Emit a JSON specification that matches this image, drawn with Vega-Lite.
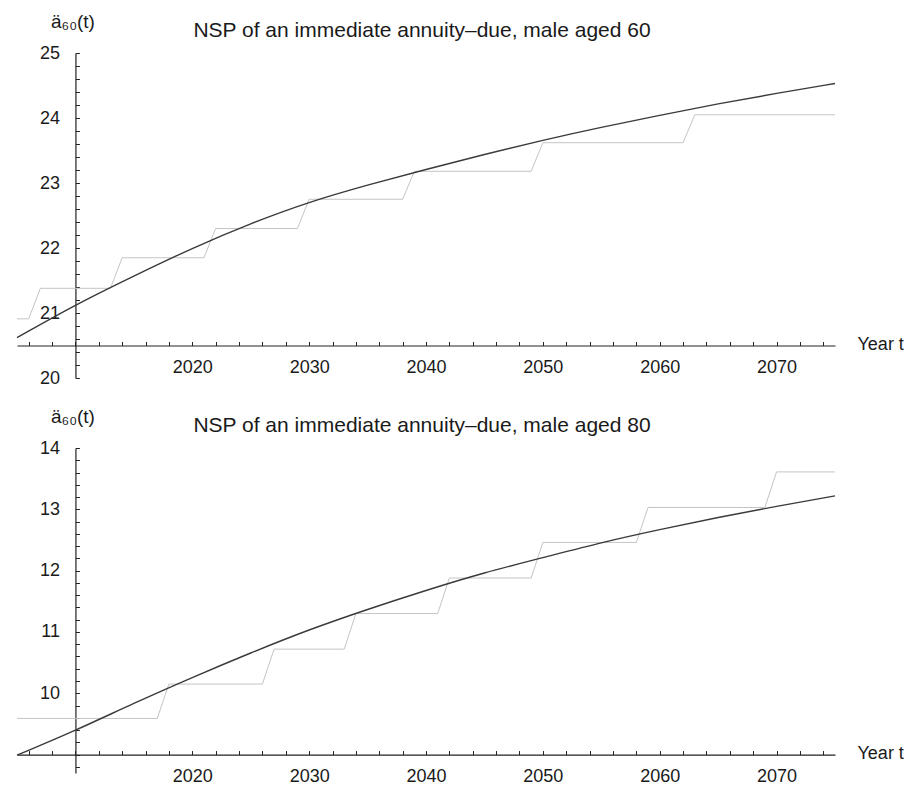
{
  "$schema": "https://vega.github.io/schema/vega-lite/v6.json",
  "background": "white",
  "padding": {"left": 14, "top": 12, "right": 5, "bottom": 2},
  "bounds": "flush",
  "spacing": 70,
  "config": {
    "view": {"stroke": null},
    "font": "Liberation Sans",
    "axis": {
      "grid": false,
      "domainColor": "#222",
      "domainWidth": 1.2,
      "tickColor": "#222",
      "tickWidth": 1,
      "tickSize": -4,
      "labelColor": "#1a1a1a",
      "labelFont": "Liberation Sans",
      "labelFontSize": 18,
      "labelFlush": false,
      "labelOverlap": false,
      "titleColor": "#1a1a1a",
      "titleFont": "Liberation Sans",
      "titleFontWeight": "normal"
    },
    "title": {"font": "Liberation Sans", "fontSize": 21, "fontWeight": "normal", "color": "#1a1a1a", "anchor": "middle", "frame": "group", "offset": 12, "dy": 41, "dx": -4}
  },
  "datasets": {
    "smooth60": [
      {"t": 2005, "v": 20.62}, {"t": 2010, "v": 21.13}, {"t": 2015, "v": 21.57}, {"t": 2020, "v": 22.0},
      {"t": 2025, "v": 22.38}, {"t": 2030, "v": 22.71}, {"t": 2035, "v": 22.97}, {"t": 2040, "v": 23.21},
      {"t": 2045, "v": 23.44}, {"t": 2050, "v": 23.66}, {"t": 2055, "v": 23.86}, {"t": 2060, "v": 24.04},
      {"t": 2065, "v": 24.22}, {"t": 2070, "v": 24.38}, {"t": 2075, "v": 24.53}
    ],
    "step60": [
      {"t": 2005, "v": 20.91}, {"t": 2006, "v": 20.91}, {"t": 2007, "v": 21.38}, {"t": 2013, "v": 21.38},
      {"t": 2014, "v": 21.85}, {"t": 2021, "v": 21.85}, {"t": 2022, "v": 22.3}, {"t": 2029, "v": 22.3},
      {"t": 2030, "v": 22.75}, {"t": 2038, "v": 22.75}, {"t": 2039, "v": 23.18}, {"t": 2049, "v": 23.18},
      {"t": 2050, "v": 23.62}, {"t": 2062, "v": 23.62}, {"t": 2063, "v": 24.05}, {"t": 2075, "v": 24.05}
    ],
    "smooth80": [
      {"t": 2005, "v": 8.99}, {"t": 2010, "v": 9.39}, {"t": 2015, "v": 9.84}, {"t": 2020, "v": 10.26},
      {"t": 2025, "v": 10.66}, {"t": 2030, "v": 11.04}, {"t": 2035, "v": 11.37}, {"t": 2040, "v": 11.68},
      {"t": 2045, "v": 11.97}, {"t": 2050, "v": 12.21}, {"t": 2055, "v": 12.46}, {"t": 2060, "v": 12.67},
      {"t": 2065, "v": 12.87}, {"t": 2070, "v": 13.05}, {"t": 2075, "v": 13.22}
    ],
    "step80": [
      {"t": 2005, "v": 9.59}, {"t": 2017, "v": 9.59}, {"t": 2018, "v": 10.15}, {"t": 2026, "v": 10.15},
      {"t": 2027, "v": 10.72}, {"t": 2033, "v": 10.72}, {"t": 2034, "v": 11.3}, {"t": 2041, "v": 11.3},
      {"t": 2042, "v": 11.88}, {"t": 2049, "v": 11.88}, {"t": 2050, "v": 12.46}, {"t": 2058, "v": 12.46},
      {"t": 2059, "v": 13.03}, {"t": 2069, "v": 13.03}, {"t": 2070, "v": 13.61}, {"t": 2075, "v": 13.61}
    ]
  },
  "vconcat": [
    {
      "width": 818,
      "height": 325,
      "title": {"text": "NSP of an immediate annuity–due, male aged 60"},
      "encoding": {
        "x": {
          "field": "t", "type": "quantitative",
          "scale": {"domain": [2005, 2075], "nice": false, "zero": false},
          "axis": {
            "offset": -32.5,
            "values": [2006, 2008, 2010, 2012, 2014, 2016, 2018, 2020, 2022, 2024, 2026, 2028, 2030, 2032, 2034, 2036, 2038, 2040, 2042, 2044, 2046, 2048, 2050, 2052, 2054, 2056, 2058, 2060, 2062, 2064, 2066, 2068, 2070, 2072, 2074],
            "format": "d",
            "labelExpr": "datum.value % 10 === 0 && datum.value !== 2010 ? datum.label : ''",
            "labelPadding": 17,
            "title": "Year t",
            "titleFontSize": 18,
            "titleX": 840,
            "titleY": -1,
            "titleAlign": "left",
            "titleBaseline": "middle"
          }
        },
        "y": {
          "field": "v", "type": "quantitative",
          "scale": {"domain": [20, 25], "nice": false, "zero": false},
          "axis": {
            "offset": -58.43,
            "values": [20, 20.2, 20.4, 20.6, 20.8, 21, 21.2, 21.4, 21.6, 21.8, 22, 22.2, 22.4, 22.6, 22.8, 23, 23.2, 23.4, 23.6, 23.8, 24, 24.2, 24.4, 24.6, 24.8, 25],
            "labelExpr": "abs(datum.value - round(datum.value)) < 0.01 ? format(datum.value, 'd') : ''",
            "labelPadding": 20,
            "title": "ä₆₀(t)",
            "titleAngle": 0,
            "titleFontSize": 19,
            "titleX": -3,
            "titleY": -32,
            "titleAlign": "center",
            "titleBaseline": "middle"
          }
        }
      },
      "layer": [
        {"data": {"name": "step60"}, "mark": {"type": "line", "color": "#c4c4c4", "strokeWidth": 1}},
        {"data": {"name": "smooth60"}, "mark": {"type": "line", "color": "#3a3a3a", "strokeWidth": 1.4, "interpolate": "basis"}}
      ]
    },
    {
      "width": 818,
      "height": 325,
      "title": {"text": "NSP of an immediate annuity–due, male aged 80"},
      "encoding": {
        "x": {
          "field": "t", "type": "quantitative",
          "scale": {"domain": [2005, 2075], "nice": false, "zero": false},
          "axis": {
            "offset": -18.4,
            "values": [2006, 2008, 2010, 2012, 2014, 2016, 2018, 2020, 2022, 2024, 2026, 2028, 2030, 2032, 2034, 2036, 2038, 2040, 2042, 2044, 2046, 2048, 2050, 2052, 2054, 2056, 2058, 2060, 2062, 2064, 2066, 2068, 2070, 2072, 2074],
            "format": "d",
            "labelExpr": "datum.value % 10 === 0 && datum.value !== 2010 ? datum.label : ''",
            "labelPadding": 17,
            "title": "Year t",
            "titleFontSize": 18,
            "titleX": 840,
            "titleY": -1,
            "titleAlign": "left",
            "titleBaseline": "middle"
          }
        },
        "y": {
          "field": "v", "type": "quantitative",
          "scale": {"domain": [8.7, 14], "nice": false, "zero": false},
          "axis": {
            "offset": -58.43,
            "values": [8.8, 9, 9.2, 9.4, 9.6, 9.8, 10, 10.2, 10.4, 10.6, 10.8, 11, 11.2, 11.4, 11.6, 11.8, 12, 12.2, 12.4, 12.6, 12.8, 13, 13.2, 13.4, 13.6, 13.8, 14],
            "labelExpr": "abs(datum.value - round(datum.value)) < 0.01 && datum.value > 9.5 ? format(datum.value, 'd') : ''",
            "labelPadding": 20,
            "title": "ä₆₀(t)",
            "titleAngle": 0,
            "titleFontSize": 19,
            "titleX": -3,
            "titleY": -32,
            "titleAlign": "center",
            "titleBaseline": "middle"
          }
        }
      },
      "layer": [
        {"data": {"name": "step80"}, "mark": {"type": "line", "color": "#c4c4c4", "strokeWidth": 1}},
        {"data": {"name": "smooth80"}, "mark": {"type": "line", "color": "#3a3a3a", "strokeWidth": 1.4, "interpolate": "basis"}}
      ]
    }
  ]
}
